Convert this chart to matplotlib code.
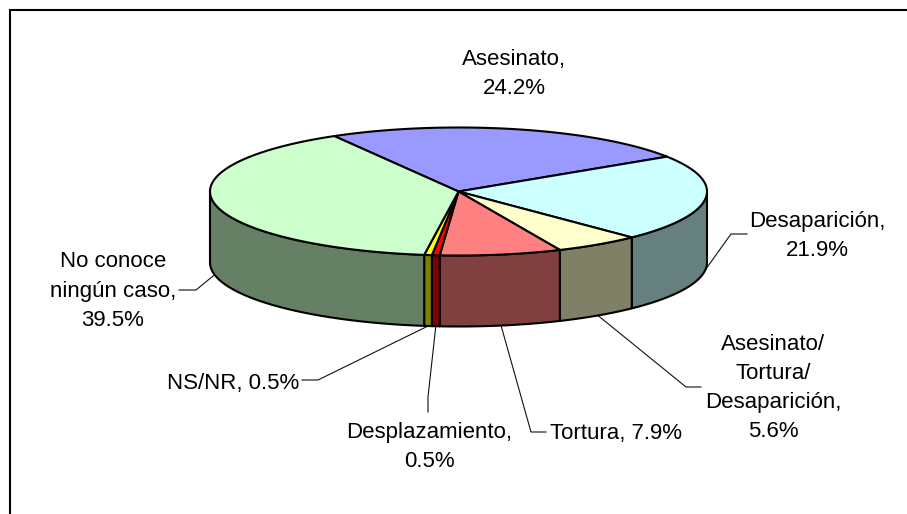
import numpy as np
import matplotlib
matplotlib.use('Agg')
import matplotlib.pyplot as plt
from matplotlib.patches import Polygon

# order is clockwise starting from the top left boundary
labels = ['Asesinato,\n24.2%', 'Desaparición,\n21.9%',
          'Asesinato/\nTortura/\nDesaparición,\n5.6%', 'Tortura, 7.9%',
          'Desplazamiento,\n0.5%', 'NS/NR, 0.5%',
          'No conoce\nningún caso,\n39.5%']
values = [24.2, 21.9, 5.6, 7.9, 0.5, 0.5, 39.5]
top_colors = ['#9999FF', '#CCFFFF', '#FFFFCC', '#FF8080', '#FF0000', '#FFFF00', '#CCFFCC']
side_colors = ['#4D4D80', '#668080', '#808066', '#804040', '#800000', '#808000', '#668066']
# label centre, then the elbow points of the leader (None = no leader)
label_pos = [(514, 74), (817, 236), (773, 388), (616, 433), (429, 447), (233, 383), (113, 291)]
leaders = [None,
           [(731, 234), (747, 234)],
           [(686, 387), (701, 387)],
           [(531, 432), (546, 432)],
           [(428, 397), (428, 412)],
           [(318, 380), (302, 380)],
           [(196, 290), (179, 290)]]

cx, cy = 458.5, 191.5
rx, ry = 248.5, 64
depth = 71
start_angle = 120


def rim(a, drop=0):
    a = np.radians(a)
    return cx + rx * np.cos(a), cy - ry * np.sin(a) + drop


fig = plt.figure(figsize=(9.07, 5.14), dpi=100)
ax = fig.add_axes([0, 0, 1, 1])
ax.set_xlim(0, 907)
ax.set_ylim(514, 0)
ax.axis('off')
plt.rcParams['font.family'] = ['Liberation Sans', 'DejaVu Sans']

# only top and left of the chart frame show
ax.plot([10, 10, 907], [514, 10, 10], color='black', lw=1.5, solid_joinstyle='miter')

shares = 360 * np.array(values) / sum(values)
ends = start_angle - np.cumsum(shares)
starts = ends + shares

# walls first, only the part of each slice in the front half
for a0, a1, col in zip(starts, ends, side_colors):
    hi = min(a0, 0)
    lo = max(a1, -180)
    if hi <= lo:
        continue
    t = np.linspace(hi, lo, 60)
    x, y = rim(t)
    xb, yb = rim(t[::-1], depth)
    pts = np.column_stack([np.r_[x, xb], np.r_[y, yb]])
    ax.add_patch(Polygon(pts, closed=True, facecolor=col, edgecolor='black',
                         lw=1.5, joinstyle='round', zorder=2))

for a0, a1, col in zip(starts, ends, top_colors):
    t = np.linspace(a0, a1, 120)
    x, y = rim(t)
    pts = np.column_stack([np.r_[cx, x], np.r_[cy, y]])
    ax.add_patch(Polygon(pts, closed=True, facecolor=col, edgecolor='black',
                         lw=1.5, joinstyle='round', zorder=3))

for a0, a1, lab, pos, lead in zip(starts, ends, labels, label_pos, leaders):
    ax.text(pos[0], pos[1], lab, ha='center', va='center', fontsize=16,
            color='black', linespacing=1.52, zorder=5)
    if lead is None:
        continue
    x0, y0 = rim((a0 + a1) / 2, depth)
    xs = [x0] + [p[0] for p in lead]
    ys = [y0] + [p[1] for p in lead]
    ax.plot(xs, ys, color='#111111', lw=0.8, zorder=1)

fig.savefig('out.png', dpi=100, facecolor='white')
